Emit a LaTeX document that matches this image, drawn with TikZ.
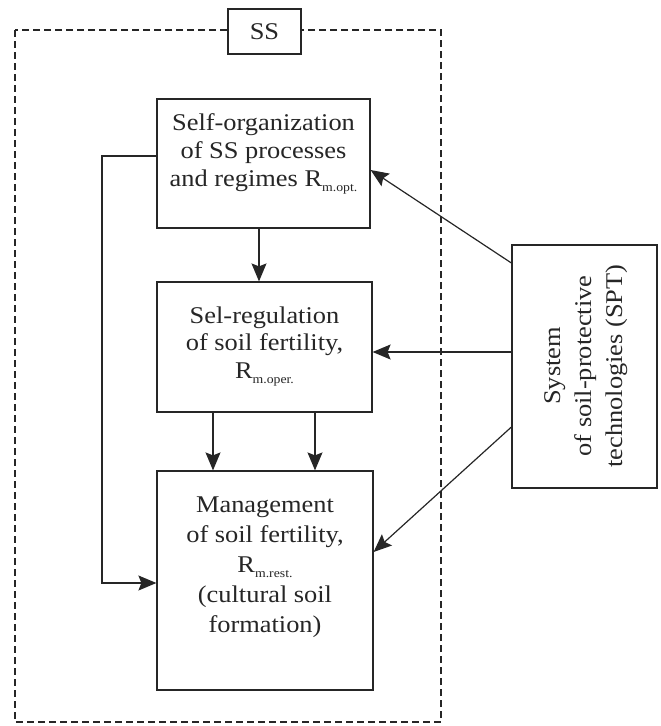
\documentclass[tikz,border=0pt]{standalone}
\usepackage{fontspec}
\setmainfont{Liberation Serif}[FakeStretch=1.1]
\usetikzlibrary{arrows.meta}
\newcommand{\mysub}[1]{\raisebox{-5pt}{\fontsize{12.5}{12.5}\selectfont #1}}
\begin{document}
\begin{tikzpicture}[x=1pt,y=-1pt,
  box/.style={draw=black!85, line width=1.2pt, inner sep=0pt, fill=white},
  txt/.style={text=black!85, align=center, inner sep=0pt, anchor=base},
  arr/.style={draw=black!85, line width=1.2pt, -{Stealth[length=18pt,width=15pt,inset=3pt]}},
  frame/.style={draw=black!85, line width=1.1pt, dash pattern=on 7pt off 4pt}]
\useasboundingbox (0,0) rectangle (661,726);
\draw[frame] (15,30) rectangle (441,722);
\node[box, minimum width=73pt, minimum height=45pt] (ss) at (264.5,31.5) {};
\node[txt, font=\fontsize{24}{28}\selectfont] (sst) at (264.5,39) {SS};
\node[box, minimum width=213pt, minimum height=129pt] (b1) at (263.5,163.5) {};
\node[box, minimum width=215pt, minimum height=130pt] (b2) at (264.5,347) {};
\node[box, minimum width=216pt, minimum height=219pt] (b3) at (265,580.5) {};
\node[box, minimum width=145pt, minimum height=243pt] (spt) at (584.5,366.5) {};
\node[txt, font=\fontsize{24}{28}\selectfont] (t1) at (263.5,186)
  {Self-organization\\of SS processes\\and regimes R\mysub{m.opt.}};
\node[txt, font=\fontsize{24}{27.5}\selectfont] (t2) at (264.5,378)
  {Sel-regulation\\of soil fertility,\\R\mysub{m.oper.}};
\node[txt, font=\fontsize{24}{30}\selectfont] (t3) at (265,632)
  {Management\\of soil fertility,\\R\mysub{m.rest.}\\(cultural soil\\formation)};
\node[txt, rotate=90, font=\fontsize{24}{31}\selectfont] (t4) at (622,366)
  {System\\of soil-protective\\technologies (SPT)};
% arrows
\draw[arr] ([xshift=-4.5pt]b1.south) -- ([xshift=-4.5pt]b1.south |- b2.north);
\draw[arr] ([xshift=-51.5pt]b2.south) -- ([xshift=-51.5pt]b2.south |- b3.north);
\draw[arr] ([xshift=50.5pt]b2.south) -- ([xshift=50.5pt]b2.south |- b3.north);
\coordinate (fb) at (102,583);
\draw[arr] ([yshift=7.5pt]b1.west) -| (fb) -- (fb -| b3.west);
\draw[arr] ([yshift=103.5pt]spt.west) -- ([yshift=-6.5pt]b1.east);
\draw[arr] ([yshift=14.5pt]spt.west) -- ([yshift=14.5pt]spt.west -| b2.east);
\draw[arr] ([yshift=-60.5pt]spt.west) -- ([yshift=28.5pt]b3.east);
\end{tikzpicture}
\end{document}
